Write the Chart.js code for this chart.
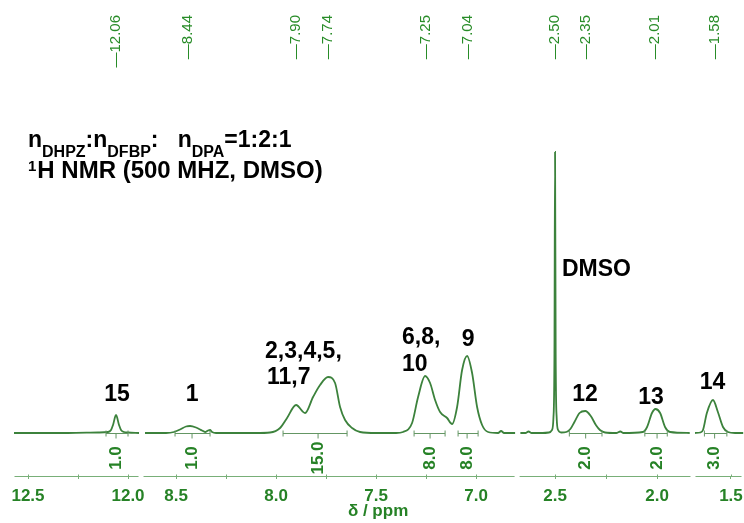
<!DOCTYPE html>
<html>
<head>
<meta charset="utf-8">
<script src="https://cdn.jsdelivr.net/npm/chart.js@4.4.1/dist/chart.umd.min.js"></script>
<style>
  html, body { margin: 0; padding: 0; background: #fff; }
  #wrap { width: 744px; height: 523px; position: relative; }
</style>
</head>
<body>
<div id="wrap"><canvas id="nmr"></canvas></div>
<script>
// spectrum (ppm, intensity above baseline)
const segA_ppm = [12.57, 12.30, 12.15, 12.10, 12.085, 12.075, 12.06, 12.045, 12.035, 12.02, 12.00, 11.945];
const segA_int = [0, 0, 0.5, 1, 3, 8, 18, 8, 3, 1, 0.5, 0];

const segB_ppm = [8.655, 8.55, 8.51, 8.48, 8.45, 8.43, 8.40, 8.37, 8.355, 8.34, 8.33, 8.32, 8.30, 8.10,
  8.03, 7.98, 7.945, 7.90, 7.855, 7.815, 7.78, 7.74, 7.705, 7.68, 7.655, 7.62, 7.58, 7.50, 7.40,
  7.365, 7.32, 7.29, 7.255, 7.23, 7.205, 7.18, 7.145, 7.12, 7.095, 7.07, 7.045, 7.02, 6.995, 6.97,
  6.94, 6.89, 6.875, 6.86, 6.805];
const segB_int = [0, 0, 1, 3.5, 6.5, 7, 5.5, 2.5, 1, 2.5, 3, 1, 0, 0,
  0.5, 5, 15, 28, 20, 36, 48, 56, 50, 26, 13, 5, 1, 0, 0,
  1, 10, 36, 57, 50, 33, 21, 15, 9, 26, 63, 77, 60, 26, 8,
  1, 0, 2, 0, 0];

const segC_ppm = [2.67, 2.645, 2.63, 2.615, 2.56, 2.53, 2.515, 2.508, 2.503, 2.50, 2.497, 2.492, 2.485,
  2.47, 2.445, 2.425, 2.405, 2.38, 2.352, 2.325, 2.30, 2.28, 2.255, 2.20, 2.18, 2.165, 2.07, 2.049,
  2.025, 2.008, 1.985, 1.961, 1.936, 1.84];
const segC_int = [0, 0, 1.5, 0, 0, 0.5, 3, 15, 80, 281, 80, 15, 3,
  0.5, 1, 4, 11, 20, 22, 17, 8, 3, 0.5, 0, 1.5, 0, 1, 6,
  20, 24, 20, 6, 1, 0];

const segD_ppm = [1.676, 1.65, 1.637, 1.618, 1.588, 1.564, 1.539, 1.515, 1.48, 1.44];
const segD_int = [0, 0.5, 3, 20, 33, 21, 6, 1, 0, 0];

// axis ticks per segment (labels only on the half-ppm ones)
const segA_ticks = [12.5, 12.25, 12.0];
const segB_ticks = [8.5, 8.25, 8.0, 7.75, 7.5, 7.25, 7.0];
const segC_ticks = [2.5, 2.25, 2.0];
const segD_ticks = [1.5];

// picked peaks (top labels)
const peakPpm = [12.06, 8.44, 7.90, 7.74, 7.25, 7.04, 2.50, 2.35, 2.01, 1.58];

// integrals
const intFrom = [12.11, 8.505, 7.965, 7.31, 7.09, 2.43, 2.06, 1.63];
const intTo   = [12.00, 8.33, 7.645, 7.155, 6.99, 2.27, 1.95, 1.52];
const intMid  = [12.06, 8.42, 7.79, 7.23, 7.045, 2.35, 2.00, 1.58];
const intVal  = ['1.0', '1.0', '15.0', '8.0', '8.0', '2.0', '2.0', '3.0'];

// broken axis segments [left ppm, right ppm]
const segRanges = [[12.58, 11.935], [8.675, 6.795], [2.686, 1.824], [1.686, 1.436]];
const segIds = ['xA', 'xB', 'xC', 'xD'];

const FONT = 'Liberation Sans, Arial, sans-serif';
const LINE = 'rgb(60,130,60)';
const GREEN = 'rgb(38,130,38)';

const pts = (xs, ys) => xs.map((x, i) => ({ x: x, y: ys[i] }));

const segData = [pts(segA_ppm, segA_int), pts(segB_ppm, segB_int), pts(segC_ppm, segC_int), pts(segD_ppm, segD_int)];
const segTicks = [segA_ticks, segB_ticks, segC_ticks, segD_ticks];
const pxPerPpm = [200, 200, 204, 204];

const scales = {
  y: { type: 'linear', display: false, min: -43, max: 333 }
};
segIds.forEach((id, i) => {
  const [hi, lo] = segRanges[i];
  scales[id] = {
    type: 'linear',
    position: 'bottom',
    stack: 'ppm',
    stackWeight: (hi - lo) * pxPerPpm[i],
    reverse: true,
    min: lo,
    max: hi,
    border: { display: false },
    grid: { display: true, drawOnChartArea: false, drawTicks: true, tickLength: 3, color: 'rgb(120,175,120)' },
    ticks: {
      autoSkip: false,
      maxRotation: 0,
      padding: 7,
      color: GREEN,
      font: { family: FONT, size: 17, weight: 'bold' },
      callback: (v) => Math.abs(v * 2 - Math.round(v * 2)) < 1e-6 ? v.toFixed(1) : ''
    },
    afterBuildTicks: (s) => { s.ticks = segTicks[i].map((v) => ({ value: v })); },
    afterFit: (s) => { s.height = 47; s.paddingLeft = 0; s.paddingRight = 0; }
  };
});

// annotation labels placed in data coordinates
const annotations = [
  { t: '15', ppm: 12.055, v: 38, align: 'center' },
  { t: '1', ppm: 8.42, v: 38, align: 'center' },
  { t: '2,3,4,5,', ppm: 8.055, v: 81, align: 'left' },
  { t: '11,7', ppm: 8.045, v: 55, align: 'left' },
  { t: '6,8,', ppm: 7.37, v: 95, align: 'left' },
  { t: '10', ppm: 7.37, v: 68, align: 'left' },
  { t: '9', ppm: 7.04, v: 93, align: 'center' },
  { t: 'DMSO', ppm: 2.466, v: 163, align: 'left' },
  { t: '12', ppm: 2.353, v: 38, align: 'center' },
  { t: '13', ppm: 2.03, v: 35, align: 'center' },
  { t: '14', ppm: 1.59, v: 50, align: 'center' }
];

function scaleFor(chart, ppm) {
  return segIds.map((id) => chart.scales[id]).find((s) => ppm >= s.min && ppm <= s.max);
}

const nmrDecor = {
  id: 'nmrDecor',
  afterDraw(chart) {
    const { ctx, chartArea } = chart;
    const yS = chart.scales.y;
    const base = yS.getPixelForValue(0);
    ctx.save();

    // axis line pieces, with small ticks poking up
    ctx.strokeStyle = 'rgb(120,175,120)';
    ctx.lineWidth = 1;
    segIds.forEach((id, i) => {
      const s = chart.scales[id];
      const ay = chartArea.bottom + 0.5;
      ctx.beginPath();
      ctx.moveTo(s.left + 2.5, ay);
      ctx.lineTo(s.right - 2.5, ay);
      segTicks[i].forEach((t) => {
        const tx = Math.round(s.getPixelForValue(t)) + 0.5;
        ctx.moveTo(tx, ay - 2);
        ctx.lineTo(tx, ay);
      });
      ctx.stroke();
    });

    // axis title
    ctx.fillStyle = GREEN;
    ctx.font = 'bold 17px ' + FONT;
    ctx.textAlign = 'center';
    ctx.textBaseline = 'middle';
    const sB = chart.scales.xB;
    ctx.fillText('δ / ppm', sB.getPixelForValue(7.49), 511);

    // integrals
    ctx.strokeStyle = 'rgb(100,150,100)';
    ctx.lineWidth = 1;
    intFrom.forEach((f, i) => {
      const s = scaleFor(chart, intMid[i]);
      const x1 = s.getPixelForValue(f), x2 = s.getPixelForValue(intTo[i]), xm = s.getPixelForValue(intMid[i]);
      const yy = Math.round(base) + 0.5;
      ctx.beginPath();
      ctx.moveTo(x1, yy); ctx.lineTo(x2, yy);
      ctx.moveTo(x1, yy - 3); ctx.lineTo(x1, yy + 3);
      ctx.moveTo(x2, yy - 3); ctx.lineTo(x2, yy + 3);
      ctx.moveTo(xm, yy); ctx.lineTo(xm, yy + 5);
      ctx.stroke();
      ctx.save();
      ctx.translate(xm, 458);
      ctx.rotate(-Math.PI / 2);
      ctx.fillStyle = GREEN;
      ctx.font = 'bold 17px ' + FONT;
      ctx.textAlign = 'center';
      ctx.textBaseline = 'middle';
      ctx.fillText(intVal[i], 0, 0);
      ctx.restore();
    });

    // peak pick labels at top
    peakPpm.forEach((p) => {
      const s = scaleFor(chart, p);
      const x = s.getPixelForValue(p);
      ctx.save();
      ctx.translate(x, 15);
      ctx.rotate(-Math.PI / 2);
      ctx.fillStyle = 'rgb(40,140,40)';
      ctx.font = '15px ' + FONT;
      ctx.textAlign = 'right';
      ctx.textBaseline = 'middle';
      ctx.fillText('—' + p.toFixed(2), 0, 0);
      ctx.restore();
    });

    // assignments
    ctx.fillStyle = '#000';
    ctx.font = 'bold 23px ' + FONT;
    ctx.textBaseline = 'middle';
    annotations.forEach((a) => {
      const s = scaleFor(chart, a.ppm);
      ctx.textAlign = a.align;
      ctx.fillText(a.t, s.getPixelForValue(a.ppm), yS.getPixelForValue(a.v));
    });

    // header text
    ctx.textAlign = 'left';
    ctx.textBaseline = 'alphabetic';
    let x = 28;
    const big = 'bold 23px ' + FONT, sub = 'bold 16px ' + FONT;
    const runs = [['n', big, 0], ['DHPZ', sub, 10], [':', big, 0], ['n', big, 0], ['DFBP', sub, 10],
      [':   ', big, 0], ['n', big, 0], ['DPA', sub, 10], ['=1:2:1', big, 0]];
    runs.forEach(([t, f, dy]) => {
      ctx.font = f;
      ctx.fillText(t, x, 147 + dy);
      x += ctx.measureText(t).width;
    });
    ctx.font = 'bold 15px ' + FONT;
    ctx.fillText('1', 28, 171);
    x = 28 + ctx.measureText('1').width + 1;
    ctx.font = 'bold 24px ' + FONT;
    ctx.fillText('H NMR (500 MHZ, DMSO)', x, 178);

    ctx.restore();
  }
};

new Chart(document.getElementById('nmr'), {
  type: 'line',
  data: {
    datasets: segIds.map((id, i) => ({
      data: segData[i],
      xAxisID: id,
      yAxisID: 'y',
      borderColor: LINE,
      borderWidth: 1.8,
      pointRadius: 0,
      fill: false,
      cubicInterpolationMode: 'monotone'
    }))
  },
  options: {
    responsive: true,
    maintainAspectRatio: false,
    animation: false,
    layout: { padding: { top: 100, left: 12, right: 0, bottom: 0 } },
    plugins: { legend: { display: false }, tooltip: { enabled: false } },
    scales: scales
  },
  plugins: [nmrDecor]
});
</script>
</body>
</html>
